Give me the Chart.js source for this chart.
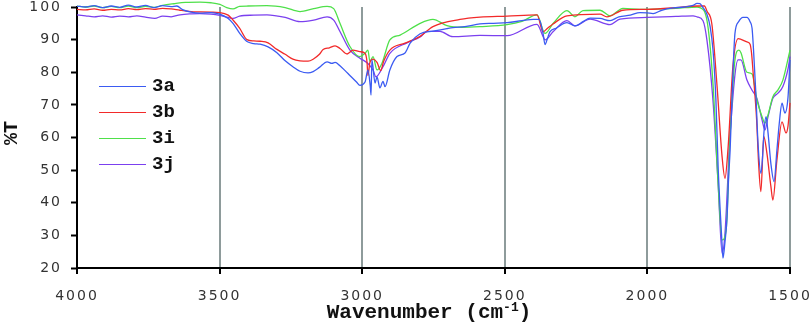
<!DOCTYPE html>
<html><head><meta charset="utf-8">
<script src="https://cdn.jsdelivr.net/npm/chart.js@4.4.1/dist/chart.umd.min.js"></script>
<style>
html,body{margin:0;padding:0;background:#fff;}
#wrap{position:relative;width:812px;height:323px;overflow:hidden;background:#fff;}
canvas{position:absolute;left:0;top:0;}
.title{position:absolute;font-family:"Liberation Mono","DejaVu Sans Mono",monospace;font-weight:bold;color:#111;white-space:nowrap;}
#ytitle{left:11px;top:133px;font-size:20px;transform:translate(-50%,-50%) rotate(-90deg);}
#xtitle{left:429px;top:312px;font-size:21px;transform:translate(-50%,-50%);}
#xtitle sup{font-size:13px;vertical-align:0;position:relative;top:-7px;}
.lgline{position:absolute;left:99px;width:47px;height:0;border-top:1.5px solid;}
.lgtext{position:absolute;left:152px;font-family:"Liberation Mono","DejaVu Sans Mono",monospace;font-weight:bold;font-size:19px;color:#111;transform:translateY(-50%);}
</style>
</head><body>
<div id="wrap">
<canvas id="c" width="812" height="323"></canvas>
<div class="title" id="ytitle">%T</div>
<div class="title" id="xtitle">Wavenumber (cm<sup>-1</sup>)</div>
<div id="legend"></div>
</div>
<script>
// Series names and colours
const seriesNames = ["3a", "3b", "3i", "3j"];
const seriesColors = ["#3b5bf2", "#f22a2a", "#4fe04a", "#7b40ef"];
const xTicks = [4000, 3500, 3000, 2500, 2000, 1500];
const yTicks = [20, 30, 40, 50, 60, 70, 80, 90, 100];

// [wavenumber (cm-1), %T]
const spectrum3a = [[4000,100.3],[3970,100.0],[3940,100.4],[3910,99.8],[3880,100.3],[3850,99.9],[3820,100.6],[3790,100.0],[3760,100.5],[3730,99.8],[3700,100.4],[3670,100.1],[3650,100.3],[3630,99.2],[3600,98.4],[3569,98.1],[3530,98.3],[3499,97.8],[3470,96.5],[3453,95.0],[3430,92.0],[3404,89.4],[3380,88.8],[3358,88.6],[3330,87.8],[3299,86.0],[3270,83.5],[3243,81.7],[3218,80.3],[3190,79.8],[3172,80.2],[3150,81.5],[3123,83.2],[3106,82.7],[3095,83.0],[3078,82.0],[3060,80.5],[3043,79.0],[3020,77.0],[3008,76.0],[2990,77.0],[2980,80.7],[2972,76.0],[2969,73.0],[2966,83.8],[2955,76.7],[2948,78.6],[2938,75.2],[2927,77.2],[2920,75.6],[2903,80.7],[2878,84.8],[2850,85.9],[2832,88.9],[2797,91.8],[2752,92.6],[2703,93.4],[2682,93.7],[2640,94.0],[2587,94.8],[2540,95.0],[2492,95.2],[2440,95.8],[2400,96.2],[2380,96.2],[2366,92.0],[2359,88.5],[2350,90.5],[2342,92.4],[2320,93.5],[2282,95.2],[2254,94.2],[2226,95.5],[2201,96.6],[2166,96.5],[2131,95.8],[2100,97.0],[2060,97.5],[2026,98.3],[2001,98.2],[1980,98.0],[1950,99.0],[1910,99.7],[1870,100.0],[1840,100.5],[1826,101.1],[1816,101.0],[1805,99.8],[1791,97.7],[1780,94.0],[1770,86.8],[1760,72.0],[1752,51.0],[1745,38.0],[1738,27.0],[1735,23.0],[1728,28.0],[1721,35.0],[1715,48.0],[1710,56.0],[1700,80.0],[1693,91.9],[1680,95.5],[1665,96.8],[1651,96.8],[1640,95.5],[1633,93.5],[1628,87.0],[1620,74.0],[1612,58.0],[1602,49.0],[1597,53.0],[1591,62.0],[1584,66.4],[1577,61.4],[1567,52.0],[1556,46.5],[1546,56.0],[1538,64.0],[1528,70.5],[1518,67.5],[1507,72.3],[1500,83.8]];
const spectrum3b = [[4000,99.3],[3970,99.1],[3940,99.4],[3910,99.0],[3880,99.3],[3850,99.1],[3820,99.5],[3790,99.2],[3760,99.5],[3730,99.3],[3700,99.6],[3670,99.4],[3639,99.0],[3600,98.6],[3569,98.5],[3530,98.4],[3499,98.3],[3470,97.5],[3453,96.0],[3430,93.5],[3404,90.0],[3380,89.6],[3358,89.5],[3330,89.0],[3299,87.0],[3270,85.5],[3243,84.0],[3218,83.5],[3190,83.4],[3172,84.0],[3150,85.5],[3137,87.0],[3115,87.5],[3095,88.1],[3078,87.3],[3053,85.6],[3032,86.8],[3008,86.3],[2990,85.8],[2983,83.0],[2980,79.0],[2973,83.0],[2962,84.0],[2948,83.0],[2935,80.5],[2925,83.3],[2903,86.8],[2850,88.9],[2797,91.0],[2752,94.0],[2657,96.2],[2587,96.9],[2492,97.2],[2387,97.6],[2366,92.4],[2350,93.5],[2331,94.8],[2282,97.3],[2166,97.8],[2142,97.0],[2086,99.0],[2001,99.3],[1900,99.8],[1826,100.3],[1800,100.3],[1791,98.7],[1774,94.8],[1756,76.0],[1738,54.0],[1728,47.5],[1717,57.0],[1700,82.0],[1682,90.3],[1651,89.3],[1640,88.6],[1635,86.0],[1630,80.7],[1617,65.4],[1610,52.0],[1602,43.4],[1592,60.3],[1581,55.2],[1567,45.0],[1560,40.8],[1546,53.0],[1528,64.8],[1514,61.4],[1507,63.5],[1500,70.6]];
const spectrum3i = [[4000,100.3],[3970,100.0],[3940,100.3],[3910,99.8],[3880,100.2],[3850,99.8],[3820,100.3],[3790,99.8],[3760,100.2],[3730,99.9],[3700,100.5],[3660,101.0],[3620,101.4],[3569,101.5],[3530,101.3],[3499,100.8],[3475,99.8],[3453,99.4],[3430,100.2],[3400,100.3],[3334,100.4],[3270,99.8],[3218,98.6],[3170,99.5],[3123,100.2],[3100,99.5],[3078,95.0],[3043,87.9],[3008,84.8],[2990,85.8],[2980,86.8],[2973,83.3],[2962,84.8],[2948,80.7],[2931,82.7],[2903,89.9],[2867,91.4],[2797,95.0],[2752,96.2],[2703,94.3],[2650,93.8],[2587,94.0],[2492,94.6],[2440,95.6],[2387,97.6],[2359,91.9],[2330,95.0],[2282,98.9],[2254,97.0],[2226,98.9],[2166,99.0],[2131,97.3],[2086,99.6],[2026,99.3],[1900,99.6],[1826,100.0],[1816,99.8],[1791,95.8],[1770,76.5],[1752,45.8],[1738,28.6],[1724,31.6],[1710,61.0],[1693,83.8],[1679,86.8],[1672,86.0],[1651,80.0],[1633,79.5],[1616,71.5],[1598,66.4],[1588,64.4],[1577,67.0],[1560,72.5],[1542,74.6],[1525,77.6],[1500,86.8]];
const spectrum3j = [[4000,97.6],[3970,97.3],[3940,97.0],[3910,97.3],[3880,96.9],[3850,97.2],[3820,97.0],[3790,97.3],[3760,96.9],[3727,96.5],[3700,97.2],[3670,97.0],[3639,97.6],[3600,97.9],[3569,98.0],[3530,97.8],[3499,97.4],[3470,96.8],[3453,96.5],[3430,97.2],[3380,97.5],[3334,97.6],[3270,96.8],[3218,95.5],[3170,96.0],[3123,97.0],[3100,96.0],[3078,92.5],[3043,86.8],[3008,84.3],[2980,82.7],[2962,80.7],[2952,78.6],[2927,81.7],[2903,85.8],[2843,89.0],[2797,90.8],[2773,92.5],[2727,92.5],[2682,90.9],[2587,91.3],[2492,91.2],[2387,94.7],[2366,91.0],[2359,89.9],[2331,92.4],[2282,95.8],[2254,94.2],[2201,96.3],[2131,94.6],[2096,96.3],[2001,96.8],[1900,97.1],[1840,97.3],[1826,97.0],[1805,95.8],[1791,89.7],[1770,71.3],[1752,45.8],[1738,24.5],[1728,30.6],[1710,61.0],[1682,83.8],[1672,83.8],[1651,77.6],[1633,74.5],[1616,72.0],[1598,65.4],[1588,62.3],[1577,66.4],[1560,72.0],[1542,73.6],[1525,75.6],[1507,81.0],[1500,84.8]];

const spectra = [spectrum3a, spectrum3b, spectrum3i, spectrum3j];

// Legend (HTML text)
const legend = document.getElementById('legend');
const legendTops = [86, 112, 138, 164];
seriesNames.forEach((n, i) => {
  const l = document.createElement('div');
  l.className = 'lgline'; l.style.top = legendTops[i] + 'px'; l.style.borderTopColor = seriesColors[i];
  const t = document.createElement('div');
  t.className = 'lgtext'; t.style.top = legendTops[i] + 'px'; t.textContent = n;
  legend.appendChild(l); legend.appendChild(t);
});

const tickFont = {family: "DejaVu Sans", size: 14};
const spacing = {
  id: 'spacing',
  beforeDraw(c) { c.ctx.letterSpacing = '2px'; },
  afterDraw(c) { c.ctx.letterSpacing = '0px'; }
};

new Chart(document.getElementById('c'), {
  type: 'line',
  data: {
    datasets: seriesNames.map((n, i) => ({
      label: n,
      data: spectra[i].map(p => ({x: p[0], y: p[1]})),
      borderColor: seriesColors[i],
      borderWidth: 1.3,
      pointRadius: 0,
      fill: false,
      clip: {left: 1, top: 8, right: 1, bottom: 1},
      cubicInterpolationMode: 'monotone'
    }))
  },
  options: {
    responsive: false, animation: false, devicePixelRatio: 1,
    layout: {autoPadding: false, padding: {top: 7, right: 22, left: 0, bottom: 0}},
    plugins: {legend: {display: false}, tooltip: {enabled: false}},
    scales: {
      x: {
        type: 'linear', reverse: true, min: xTicks[xTicks.length - 1], max: xTicks[0],
        afterBuildTicks: s => { s.ticks = xTicks.map(v => ({value: v})); },
        ticks: {font: tickFont, color: '#333', padding: 14, maxRotation: 0, autoSkip: false, callback: v => String(v)},
        grid: {color: '#8e9b9b', lineWidth: 2, tickColor: '#000', tickLength: 6, tickWidth: 2},
        border: {color: '#000', width: 2},
        afterFit: s => { s.height = 55; s.paddingLeft = 0; s.paddingRight = 0; s.paddingTop = 0; s.paddingBottom = 0; }
      },
      y: {
        min: yTicks[0], max: yTicks[yTicks.length - 1],
        afterBuildTicks: s => { s.ticks = yTicks.map(v => ({value: v})); },
        ticks: {font: tickFont, color: '#333', padding: 9, callback: v => String(v)},
        grid: {drawOnChartArea: false, tickColor: '#000', tickLength: 6, tickWidth: 2},
        border: {color: '#000', width: 2},
        afterFit: s => { s.width = 77; s.paddingLeft = 0; s.paddingRight = 0; s.paddingTop = 0; s.paddingBottom = 0; }
      }
    }
  },
  plugins: [spacing]
});
</script>
</body></html>
